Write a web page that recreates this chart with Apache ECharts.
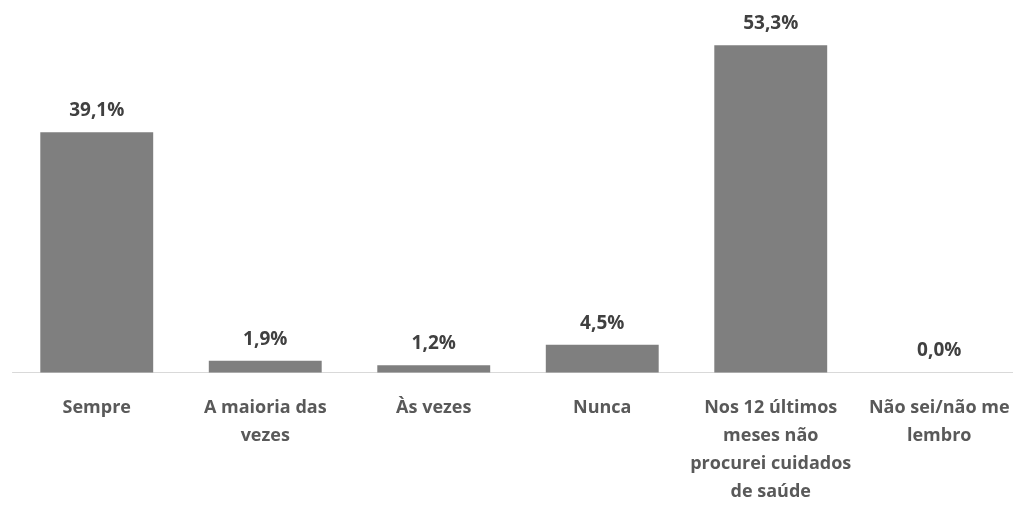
<!DOCTYPE html>
<html><head><meta charset="utf-8">
<script src="https://cdn.jsdelivr.net/npm/echarts@6/dist/echarts.min.js"></script>
<style>html,body{margin:0;padding:0;background:#fff}#c{width:1013px;height:505px}</style>
</head><body><div id="c"></div>
<script>
const categories = ["Sempre", "A maioria das\nvezes", "Às vezes", "Nunca", "Nos 12 últimos\nmeses não\nprocurei cuidados\nde saúde", "Não sei/não me\nlembro"];
const values = [39.1, 1.9, 1.2, 4.5, 53.3, 0.0];

const chart = echarts.init(document.getElementById('c'));
chart.setOption({
  animation: false,
  grid: {left: 12.5, right: -10.5, top: 4, bottom: 132.5, containLabel: false, outerBoundsMode: 'none'},
  xAxis: {
    type: 'category', data: categories,
    axisLine: {lineStyle: {color: '#d9d9d9', width: 1}},
    axisTick: {show: false},
    axisLabel: {interval: 0, color: '#595959', fontFamily: 'Open Sans', fontWeight: 'bold', fontSize: 18, lineHeight: 28, margin: 21}
  },
  yAxis: {type: 'value', min: 0, max: 60, show: false, splitLine: {show: false}},
  series: [{
    type: 'bar', data: values, barCategoryGap: '33%',
    itemStyle: {color: '#7f7f7f'},
    label: {show: true, position: 'top', distance: 12, color: '#404040', fontFamily: 'Open Sans', fontWeight: 'bold', fontSize: 19,
      formatter: p => p.value.toFixed(1).replace('.', ',') + '%'}
  }]
});
</script></body></html>
